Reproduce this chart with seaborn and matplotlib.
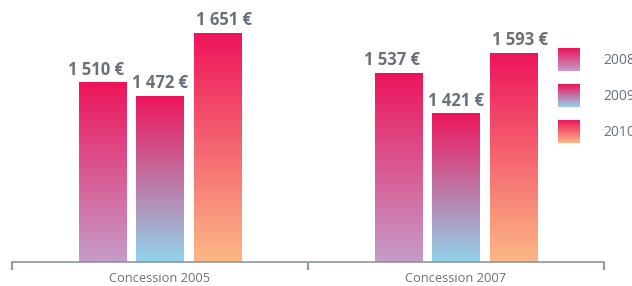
import numpy as np
import pandas as pd
import matplotlib
matplotlib.use("Agg")
import matplotlib.pyplot as plt
import seaborn as sns
from matplotlib.colors import to_rgb

# ---- data ----
categories = ["Concession 2005", "Concession 2007"]
years = ["2008", "2009", "2010"]
values_2008 = [1510, 1537]
values_2009 = [1472, 1421]
values_2010 = [1651, 1593]

top_color = "#ED145B"
bottom_colors = {"2008": "#C59DC9", "2009": "#92D4EC", "2010": "#FCB886"}
text_gray = "#6B7176"
axis_gray = "#8E979C"

series = {"2008": values_2008, "2009": values_2009, "2010": values_2010}
rows = []
for y in years:
    for c, v in zip(categories, series[y]):
        rows.append({"cat": c, "year": y, "value": v})
df = pd.DataFrame(rows)

sns.set_theme(style="white")
plt.rcParams["font.family"] = ["Open Sans", "DejaVu Sans"]

W, H = 632, 286
fig = plt.figure(figsize=(W / 100, H / 100), dpi=100)
fig.patch.set_facecolor("white")
ax = fig.add_axes([12 / W, 24 / H, 592 / W, 262 / H])

sns.barplot(data=df, x="cat", y="value", hue="year", order=categories,
            hue_order=years, palette=[bottom_colors[y] for y in years],
            width=0.578, gap=0.175, ax=ax, legend=False, errorbar=None)

ymin, ymax = 1000, 1745
xlim = (-0.5, 1.5)


def gradient(top, bottom, n=256):
    t = np.linspace(0, 1, n)[:, None]
    arr = (1 - t) * np.array(to_rgb(top)) + t * np.array(to_rgb(bottom))
    return arr[:, None, :]


offsets = {"2008": -6.5, "2009": 0, "2010": 6.8}
for cont, y in zip(ax.containers, years):
    g = gradient(top_color, bottom_colors[y])
    for bar in cont:
        x0 = bar.get_x()
        w = bar.get_width()
        y1 = bar.get_y() + bar.get_height()
        y0 = max(bar.get_y(), ymin)
        bar.set_visible(False)
        ax.imshow(g, extent=[x0, x0 + w, y0, y1], aspect="auto",
                  origin="upper", interpolation="bilinear", zorder=2)
        label = f"{int(round(y1)):,}".replace(",", " ") + " €"
        ax.annotate(label, (x0 + w / 2, y1), xytext=(offsets[y], 8),
                    textcoords="offset pixels", ha="center", va="baseline",
                    fontsize=12, fontweight="bold", color=text_gray)

ax.set_xlim(*xlim)
ax.set_ylim(ymin, ymax)

for s in ["top", "left", "right"]:
    ax.spines[s].set_visible(False)
ax.spines["bottom"].set_color(axis_gray)
ax.spines["bottom"].set_linewidth(1.2)
ax.set_yticks([])
ax.set_xlabel("")
ax.set_ylabel("")
ax.set_xticks([0, 1])
ax.set_xticklabels(categories, fontsize=9.3, color=text_gray)
ax.set_xticks([-0.5, 0.5, 1.5], minor=True)
ax.tick_params(axis="x", which="major", length=0, pad=7.5)
ax.tick_params(axis="x", which="minor", length=5.8, width=1.4,
               color=axis_gray, direction="out", bottom=True)
ax.set_facecolor("white")

# legend with gradient swatches
leg_tops = [48, 84, 120]
for y, t in zip(years, leg_tops):
    lax = fig.add_axes([558 / W, 1 - (t + 23) / H, 22 / W, 23 / H])
    lax.imshow(gradient(top_color, bottom_colors[y]), aspect="auto",
               interpolation="bilinear")
    lax.axis("off")
    fig.text(603 / W, 1 - (t + 12) / H, y, fontsize=10, color=text_gray,
             ha="left", va="center")

fig.savefig("out.png", dpi=100, facecolor="white")
